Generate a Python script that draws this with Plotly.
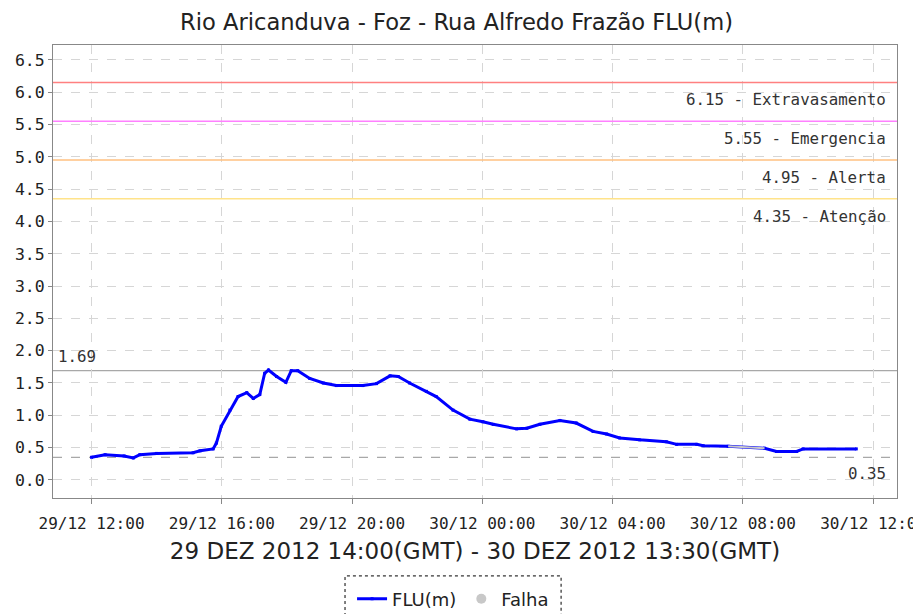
import plotly.graph_objects as go

# --- data ---
flu_times = [
    "2012-12-29 12:00", "2012-12-29 12:25", "2012-12-29 13:00", "2012-12-29 13:17",
    "2012-12-29 13:29", "2012-12-29 14:00", "2012-12-29 15:07", "2012-12-29 15:20",
    "2012-12-29 15:44", "2012-12-29 15:50", "2012-12-29 15:59", "2012-12-29 16:15",
    "2012-12-29 16:30", "2012-12-29 16:46", "2012-12-29 16:58", "2012-12-29 17:10",
    "2012-12-29 17:19", "2012-12-29 17:26", "2012-12-29 17:41", "2012-12-29 17:58",
    "2012-12-29 18:08", "2012-12-29 18:20", "2012-12-29 18:42", "2012-12-29 19:07",
    "2012-12-29 19:31", "2012-12-29 20:20", "2012-12-29 20:45", "2012-12-29 21:10",
    "2012-12-29 21:25", "2012-12-29 21:46", "2012-12-29 22:17", "2012-12-29 22:35",
    "2012-12-29 23:06", "2012-12-29 23:37", "2012-12-30 00:01", "2012-12-30 00:20",
    "2012-12-30 01:03", "2012-12-30 01:22", "2012-12-30 01:46", "2012-12-30 02:23",
    "2012-12-30 02:53", "2012-12-30 03:24", "2012-12-30 03:49", "2012-12-30 04:13",
    "2012-12-30 04:50", "2012-12-30 05:39", "2012-12-30 05:58", "2012-12-30 06:35",
    "2012-12-30 06:47", "2012-12-30 07:33", "2012-12-30 08:40", "2012-12-30 09:02",
    "2012-12-30 09:39", "2012-12-30 09:51", "2012-12-30 11:29",
]
flu_values = [
    0.35, 0.39, 0.37, 0.34,
    0.39, 0.41, 0.42, 0.45,
    0.48, 0.57, 0.83, 1.08,
    1.29, 1.35, 1.26, 1.32,
    1.65, 1.70, 1.60, 1.51,
    1.69, 1.69, 1.57, 1.50,
    1.46, 1.46, 1.49, 1.61,
    1.60, 1.50, 1.37, 1.29,
    1.08, 0.94, 0.90, 0.86,
    0.79, 0.80, 0.86, 0.92,
    0.88, 0.75, 0.71, 0.65,
    0.62, 0.59, 0.55, 0.55,
    0.53, 0.52, 0.49, 0.44,
    0.44, 0.48, 0.48,
]
falha_times = ["2012-12-30 07:33", "2012-12-30 08:40"]
falha_values = [0.52, 0.49]

level_values = [6.15, 5.55, 4.95, 4.35]
level_names = ["Extravasamento", "Emergencia", "Alerta", "Atenção"]
level_colors = ["#ff8080", "#ff80ff", "#ffc080", "#ffe38a"]
max_value = 1.69
min_value = 0.35

x_range = ["2012-12-29 10:49", "2012-12-30 12:44"]
y_range = [-0.28, 6.73]

title_text = "Rio Aricanduva - Foz - Rua Alfredo Frazão FLU(m)"
x_title = "29 DEZ 2012 14:00(GMT) - 30 DEZ 2012 13:30(GMT)"

mono = "DejaVu Sans Mono"
sans = "DejaVu Sans"

fig = go.Figure()

fig.add_trace(go.Scatter(
    x=flu_times, y=flu_values, name="FLU(m)", mode="lines+markers",
    line=dict(color="#0000ff", width=3),
    marker=dict(symbol="square", size=3, color="#0000ff"),
))
fig.add_trace(go.Scatter(
    x=falha_times, y=falha_values, name="Falha", mode="lines",
    line=dict(color="#c8c8c8", width=2),
    showlegend=False,
))
fig.add_trace(go.Scatter(
    x=[None], y=[None], name="Falha", mode="markers",
    marker=dict(symbol="circle", size=10, color="#c8c8c8"),
))

shapes = []
annotations = []
for v, n, c in zip(level_values, level_names, level_colors):
    shapes.append(dict(type="line", xref="paper", x0=0, x1=1, yref="y", y0=v, y1=v,
                       line=dict(color=c, width=1.5), layer="above"))
    annotations.append(dict(xref="paper", x=0.989, yref="y", y=v, xanchor="right",
                            yanchor="top", yshift=-6, showarrow=False,
                            text=f"{v:.2f} - {n}",
                            font=dict(family=mono, size=15.8, color="#333333")))

shapes.append(dict(type="line", xref="paper", x0=0, x1=1, yref="y", y0=max_value, y1=max_value,
                   line=dict(color="#a8a8a8", width=1.2), layer="below"))
annotations.append(dict(xref="paper", x=0.004, yref="y", y=max_value, xanchor="left",
                        yanchor="bottom", yshift=3, showarrow=False, text=f"{max_value:.2f}",
                        font=dict(family=mono, size=15.8, color="#333333")))
shapes.append(dict(type="line", xref="paper", x0=0, x1=1, yref="y", y0=min_value, y1=min_value,
                   line=dict(color="#a8a8a8", width=1.2, dash="dash"), layer="below"))
annotations.append(dict(xref="paper", x=0.989, yref="y", y=min_value, xanchor="right",
                        yanchor="top", yshift=-5, showarrow=False, text=f"{min_value:.2f}",
                        font=dict(family=mono, size=15.8, color="#333333")))

# dashed legend frame
shapes.append(dict(type="rect", xref="paper", yref="paper",
                   x0=0.346, x1=0.602, y0=-0.262, y1=-0.172,
                   line=dict(color="#000000", width=1, dash="dot")))

fig.update_layout(
    width=913, height=614,
    margin=dict(l=53, r=16, t=45, b=116, autoexpand=False),
    paper_bgcolor="white", plot_bgcolor="white",
    title=dict(text=title_text, x=0.5, xanchor="center", y=0.964, yanchor="middle",
               font=dict(family=sans, size=22.6, color="#222222")),
    showlegend=True,
    legend=dict(orientation="h", x=0.474, xanchor="center", y=-0.223, yanchor="middle",
                font=dict(family=sans, size=18, color="#222222"),
                bgcolor="rgba(0,0,0,0)", borderwidth=0, itemwidth=30,
                tracegroupgap=0),
    shapes=shapes, annotations=annotations,
)

fig.update_xaxes(
    type="date", range=x_range, dtick=4 * 3600 * 1000, tick0="2012-12-29 12:00",
    tickformat="%d/%m %H:%M", tickfont=dict(family=mono, size=16, color="#222222"),
    ticks="outside", ticklen=5, tickcolor="#888888", ticklabeloverflow="allow",
    ticklabelstandoff=6,
    showgrid=True, gridcolor="#d6d6d6", griddash="dash", gridwidth=1,
    showline=True, linecolor="#888888", linewidth=1, mirror=True,
    zeroline=False, automargin=False,
    title=dict(text=x_title, font=dict(family=sans, size=23, color="#222222"), standoff=10),
)
fig.update_yaxes(
    range=y_range, dtick=0.5, tick0=0, tickformat=".1f",
    tickfont=dict(family=mono, size=16.5, color="#222222"),
    ticks="outside", ticklen=4, tickcolor="#888888",
    showgrid=True, gridcolor="#d6d6d6", griddash="dash", gridwidth=1,
    showline=True, linecolor="#888888", linewidth=1, mirror=True,
    zeroline=False, automargin=False,
)

fig.write_html("out.html", config={"displayModeBar": False},
               post_script="document.body.style.margin='0';document.body.style.overflow='hidden';")
